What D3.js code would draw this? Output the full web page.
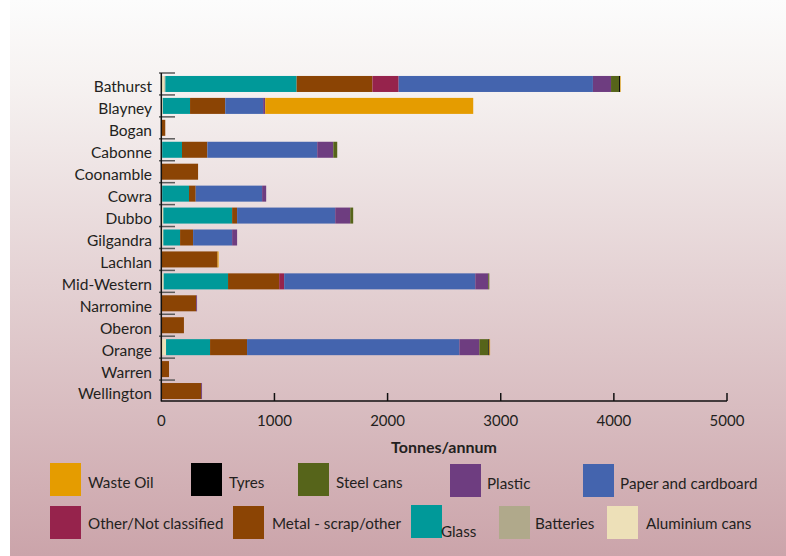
<!DOCTYPE html>
<html><head><meta charset="utf-8">
<script src="https://cdn.jsdelivr.net/npm/d3@7"></script>
<style>body{margin:0;background:#fff}svg{display:block}text{font-family:Lato,"Open Sans",sans-serif;fill:#231f20}</style>
</head><body><svg id="c" width="786" height="556"></svg>
<script>
const categories = ["Bathurst","Blayney","Bogan","Cabonne","Coonamble","Cowra","Dubbo","Gilgandra","Lachlan","Mid-Western","Narromine","Oberon","Orange","Warren","Wellington"];
const aluminium = [28,12,0,8,0,8,18,18,0,21,0,0,42,0,0];
const batteries = [8,2,0,0,0,0,0,0,0,0,0,0,0,0,0];
const glass     = [1160,240,0,175,0,237,608,148,0,569,0,0,389,0,0];
const metal     = [670,311,35,224,325,59,44,115,497,452,308,200,327,68,352];
const other     = [232,0,0,0,0,0,0,0,0,44,0,0,0,0,0];
const paper     = [1717,335,0,971,0,587,867,345,0,1689,0,0,1877,0,0];
const plastic   = [160,18,0,142,0,36,133,44,0,115,8,0,177,0,8];
const steel     = [71,0,0,35,0,0,26,0,0,9,0,0,79,0,0];
const tyres     = [9,0,0,0,0,0,0,0,0,0,0,0,9,0,0];
const wasteOil  = [5,1839,0,0,0,0,0,0,9,0,0,0,6,0,0];
const xTicks = [0,1000,2000,3000,4000,5000];

const seriesNames = ["Aluminium cans","Batteries","Glass","Metal - scrap/other","Other/Not classified","Paper and cardboard","Plastic","Steel cans","Tyres","Waste Oil"];
const seriesVals = [aluminium,batteries,glass,metal,other,paper,plastic,steel,tyres,wasteOil];
const colors = {"Aluminium cans":"#ede0b8","Batteries":"#b0a98b","Glass":"#009999","Metal - scrap/other":"#8b4404","Other/Not classified":"#96234c","Paper and cardboard":"#4464ae","Plastic":"#6e3d80","Steel cans":"#56641a","Tyres":"#000000","Waste Oil":"#e59c00"};

const svg = d3.select("#c");
const defs = svg.append("defs");
const g = defs.append("linearGradient").attr("id","bg").attr("x1",0).attr("x2",0).attr("y1",0).attr("y2",1);
g.append("stop").attr("offset","0%").attr("stop-color","#fcfcfc");
g.append("stop").attr("offset","15%").attr("stop-color","#f6f2f1");
g.append("stop").attr("offset","100%").attr("stop-color","#cba4aa");
svg.append("rect").attr("x",10).attr("y",0).attr("width",776).attr("height",556).attr("fill","url(#bg)");

const x = d3.scaleLinear().domain([0,5000]).range([161.3,727]);
const y = d3.scaleBand().domain(categories).range([73,402]).paddingInner(0.27).paddingOuter(0.135);

const table = categories.map((c,i)=>{const o={cat:c}; seriesNames.forEach((s,j)=>o[s]=seriesVals[j][i]); return o;});
const stack = d3.stack().keys(seriesNames)(table);

svg.append("g").selectAll("g").data(stack).join("g").attr("fill",d=>colors[d.key])
  .selectAll("rect").data(d=>d).join("rect")
  .attr("x",d=>x(d[0])).attr("width",d=>Math.max(0,x(d[1])-x(d[0])))
  .attr("y",d=>y(d.data.cat)).attr("height",y.bandwidth());

// y ticks at band boundaries
const step = y.step();
const bounds = d3.range(categories.length).map(i=>73+i*step);
svg.append("g").selectAll("line").data(bounds).join("line")
  .attr("x1",159).attr("x2",175).attr("y1",d=>d).attr("y2",d=>d)
  .attr("stroke","#5a5a5a").attr("stroke-width",1.5);

// y axis
svg.append("line").attr("x1",161.3).attr("x2",161.3).attr("y1",73).attr("y2",401.5).attr("stroke","#111").attr("stroke-width",1.5);
svg.append("g").selectAll("text").data(categories).join("text")
  .attr("x",152).attr("y",d=>y(d)+y.bandwidth()/2+3).attr("dy","0.35em")
  .attr("text-anchor","end").attr("font-size",15.5).text(d=>d);

// x axis
const xa = svg.append("g").attr("transform","translate(0,401)");
xa.append("line").attr("x1",161.3).attr("x2",727).attr("stroke","#111").attr("stroke-width",1.5);
xa.selectAll("line.t").data(xTicks.slice(1)).join("line").attr("class","t")
  .attr("x1",d=>x(d)).attr("x2",d=>x(d)).attr("y1",0).attr("y2",-8).attr("stroke","#111").attr("stroke-width",1.5);
xa.selectAll("text").data(xTicks).join("text").attr("x",d=>x(d)).attr("y",20).attr("dy","0.35em")
  .attr("text-anchor","middle").attr("font-size",15).text(d=>d);
svg.append("text").attr("x",444).attr("y",447).attr("dy","0.35em").attr("text-anchor","middle")
  .attr("font-size",16).attr("font-weight","bold").text("Tonnes/annum");

// legend
const legend = [
  {name:"Waste Oil",sx:50,tx:88,sy:463,ty:483},
  {name:"Tyres",sx:191,tx:229,sy:463,ty:483},
  {name:"Steel cans",sx:298,tx:336,sy:463,ty:483},
  {name:"Plastic",sx:450,tx:487,sy:464,ty:484},
  {name:"Paper and cardboard",sx:583,tx:620,sy:464,ty:484},
  {name:"Other/Not classified",sx:50,tx:88,sy:506,ty:524},
  {name:"Metal - scrap/other",sx:233,tx:272,sy:506,ty:524},
  {name:"Glass",sx:411,tx:441,sy:505,ty:532},
  {name:"Batteries",sx:499,tx:535,sy:506,ty:524},
  {name:"Aluminium cans",sx:607,tx:646,sy:506,ty:524}
];
const lg = svg.append("g").selectAll("g").data(legend).join("g");
lg.append("rect").attr("x",d=>d.sx).attr("y",d=>d.sy).attr("width",31).attr("height",33).attr("fill",d=>colors[d.name]);
lg.append("text").attr("x",d=>d.tx).attr("y",d=>d.ty).attr("dy","0.35em").attr("font-size",15.2).text(d=>d.name);
</script></body></html>
